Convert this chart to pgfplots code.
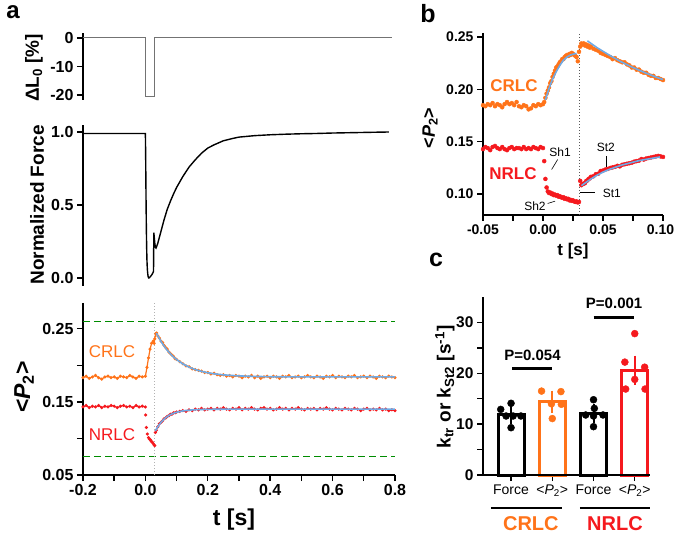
\documentclass[border=0pt]{standalone}
\usepackage{pgfplots}
\pgfplotsset{compat=1.18}
\usepackage{fontspec}
\setmainfont{Liberation Sans}
\definecolor{corange}{RGB}{255,115,25}
\definecolor{cred}{RGB}{245,25,30}
\definecolor{cblue}{RGB}{110,170,230}
\definecolor{cgreen}{RGB}{0,140,0}
\newcommand{\tb}[1]{\textbf{#1}}
\pgfplotsset{
  base/.style={scale only axis, clip=false, clip marker paths=true, anchor=south west,
    axis line style={draw=none}, xtick pos=left, ytick pos=left,
    tick align=outside, major tick length=6pt, minor tick length=6pt,
    tick style={black, line width=1.4pt},
    tick label style={font=\bfseries\fontsize{16}{18}\selectfont}},
}
\tikzset{axl/.style={line width=1.6pt, line join=miter}}
\begin{document}
\begin{tikzpicture}
\useasboundingbox (0,0) rectangle (675pt,-534pt);
% ---------- panel a top: length step
\begin{axis}[base, at={(83pt,-100pt)}, width=312pt, height=67pt,
  xmin=-0.2, xmax=0.8, ymin=-21.75, ymax=1.75, xtick=\empty,
  ytick={-20,-10,0}, yticklabels={\tb{-20},\tb{-10},\tb{0}}]
\draw[axl] (rel axis cs:0,0) -- (rel axis cs:0,1);
\addplot[black!55, line width=1pt] coordinates {(-0.2,0) (0.0,0) (0.0,-20.5) (0.028,-20.5) (0.028,0) (0.79,0)};
\end{axis}
% ---------- panel a middle: force
\begin{axis}[base, at={(83pt,-286pt)}, width=312pt, height=161pt,
  xmin=-0.2, xmax=0.8, ymin=-0.055, ymax=1.048, xtick=\empty,
  ytick={0,0.5,1}, yticklabels={\tb{0.0},\tb{0.5},\tb{1.0}}]
\draw[axl] (rel axis cs:0,0) -- (rel axis cs:0,1);
\addplot[black, line width=1.4pt] coordinates {
(-0.2,0.99) (-0.1,0.99) (0.0,0.99) (0.001,0.80) (0.002,0.55) (0.003,0.35) (0.004,0.21)
(0.005,0.12) (0.006,0.07) (0.007,0.04) (0.008,0.02) (0.009,0.008) (0.010,0.002) (0.011,0.0)
(0.013,0.002) (0.016,0.01) (0.020,0.02) (0.024,0.035) (0.026,0.045) (0.027,0.31) (0.028,0.29)
(0.030,0.24) (0.032,0.21) (0.034,0.205) (0.036,0.215) (0.04,0.24) (0.05,0.32) (0.06,0.40)
(0.07,0.47) (0.08,0.525) (0.09,0.575) (0.10,0.62) (0.12,0.695) (0.14,0.76) (0.16,0.81)
(0.18,0.855) (0.20,0.89) (0.22,0.912) (0.25,0.94) (0.28,0.956) (0.30,0.965) (0.35,0.975)
(0.40,0.981) (0.45,0.985) (0.50,0.988) (0.55,0.99) (0.60,0.993) (0.65,0.995) (0.70,0.997)
(0.75,0.999) (0.78,1.0)};
\end{axis}
% ---------- panel a bottom: <P2>
\begin{axis}[base, at={(83pt,-475pt)}, width=312pt, height=172pt,
  xmin=-0.2, xmax=0.8, ymin=0.05, ymax=0.285,
  xtick={-0.2,0,0.2,0.4,0.6,0.8}, xticklabels={\tb{-0.2},\tb{0.0},\tb{0.2},\tb{0.4},\tb{0.6},\tb{0.8}},
  minor xtick={-0.1,0.1,0.3,0.5,0.7},
  ytick={0.05,0.15,0.25}, yticklabels={\tb{0.05},\tb{0.15},\tb{0.25}}, minor ytick={0.1,0.2}]
\draw[axl] (rel axis cs:0,1) -- (rel axis cs:0,0) -- (rel axis cs:1,0);
\addplot[cgreen, line width=1.5pt, dash pattern=on 7pt off 4pt] coordinates {(-0.2,0.26) (0.8,0.26)};
\addplot[cgreen, line width=1.5pt, dash pattern=on 7pt off 4pt] coordinates {(-0.2,0.075) (0.8,0.075)};
\addplot[black!30, dotted, line width=1pt] coordinates {(0.03,0.05) (0.03,0.285)};
\addplot[corange, line width=1.2pt, mark=*, mark size=0.9pt] coordinates {
(-0.20,0.183) (-0.19,0.185) (-0.18,0.182) (-0.17,0.184) (-0.16,0.186) (-0.15,0.183) (-0.14,0.181)
(-0.13,0.184) (-0.12,0.185) (-0.11,0.183) (-0.10,0.184) (-0.09,0.182) (-0.08,0.185) (-0.07,0.184)
(-0.06,0.183) (-0.05,0.186) (-0.04,0.184) (-0.03,0.182) (-0.02,0.185) (-0.01,0.184) (0.000,0.185)
(0.005,0.197) (0.010,0.210) (0.015,0.222) (0.020,0.230) (0.025,0.233) (0.028,0.230) (0.030,0.236)
(0.033,0.243) (0.036,0.244) (0.040,0.240) (0.045,0.237) (0.050,0.233) (0.055,0.231) (0.060,0.227)
(0.065,0.224) (0.070,0.222) (0.075,0.218) (0.080,0.216) (0.085,0.214) (0.090,0.212) (0.095,0.209)
(0.100,0.208) (0.110,0.205) (0.120,0.202) (0.130,0.199) (0.140,0.198) (0.150,0.195) (0.160,0.194)
(0.170,0.193) (0.180,0.192) (0.190,0.190) (0.200,0.190) (0.210,0.188) (0.220,0.189) (0.230,0.187)
(0.240,0.186) (0.250,0.187) (0.26,0.185) (0.27,0.186) (0.28,0.184) (0.29,0.186) (0.30,0.185)
(0.31,0.183) (0.32,0.185) (0.33,0.184) (0.34,0.186) (0.35,0.183) (0.36,0.185) (0.37,0.182)
(0.38,0.184) (0.39,0.185) (0.40,0.183) (0.41,0.185) (0.42,0.184) (0.43,0.182) (0.44,0.185)
(0.45,0.184) (0.46,0.186) (0.47,0.183) (0.48,0.184) (0.49,0.185) (0.50,0.183) (0.51,0.184)
(0.52,0.186) (0.53,0.184) (0.54,0.183) (0.55,0.185) (0.56,0.184) (0.57,0.182) (0.58,0.185)
(0.59,0.184) (0.60,0.186) (0.61,0.183) (0.62,0.185) (0.63,0.184) (0.64,0.183) (0.65,0.185)
(0.66,0.184) (0.67,0.186) (0.68,0.183) (0.69,0.184) (0.70,0.185) (0.71,0.183) (0.72,0.185)
(0.73,0.184) (0.74,0.182) (0.75,0.185) (0.76,0.184) (0.77,0.183) (0.78,0.185) (0.79,0.184) (0.80,0.183)};
\addplot[cred, line width=1.2pt, mark=*, mark size=0.9pt, unbounded coords=jump] coordinates {
(-0.20,0.143) (-0.19,0.145) (-0.18,0.142) (-0.17,0.144) (-0.16,0.143) (-0.15,0.145) (-0.14,0.142)
(-0.13,0.144) (-0.12,0.143) (-0.11,0.145) (-0.10,0.144) (-0.09,0.142) (-0.08,0.144) (-0.07,0.145)
(-0.06,0.143) (-0.05,0.144) (-0.04,0.142) (-0.03,0.145) (-0.02,0.143) (-0.01,0.144) (0.000,0.143)
(0.0005,nan) (0.001,0.132) (0.002,nan) (0.003,0.115) (0.004,nan) (0.006,0.106) (0.008,nan)
(0.010,0.101) (0.013,0.099) (0.016,0.098) (0.019,0.096) (0.022,0.095) (0.025,0.093) (0.028,0.091)
(0.030,0.090) (0.031,nan) (0.032,0.108) (0.035,0.111) (0.040,0.116) (0.045,0.120) (0.050,0.122)
(0.055,0.124) (0.060,0.127) (0.065,0.128) (0.070,0.130) (0.075,0.131) (0.080,0.133) (0.085,0.133)
(0.090,0.135) (0.095,0.135) (0.100,0.136) (0.11,0.137) (0.12,0.138) (0.13,0.137) (0.14,0.139)
(0.15,0.138) (0.16,0.140) (0.17,0.139) (0.18,0.141) (0.19,0.139) (0.20,0.140) (0.21,0.141)
(0.22,0.139) (0.23,0.141) (0.24,0.140) (0.25,0.142) (0.26,0.140) (0.27,0.139) (0.28,0.141)
(0.29,0.140) (0.30,0.142) (0.31,0.139) (0.32,0.141) (0.33,0.140) (0.34,0.142) (0.35,0.140)
(0.36,0.139) (0.37,0.141) (0.38,0.142) (0.39,0.140) (0.40,0.141) (0.41,0.139) (0.42,0.140)
(0.43,0.142) (0.44,0.140) (0.45,0.141) (0.46,0.139) (0.47,0.141) (0.48,0.140) (0.49,0.142)
(0.50,0.140) (0.51,0.139) (0.52,0.141) (0.53,0.140) (0.54,0.141) (0.55,0.139) (0.56,0.141)
(0.57,0.140) (0.58,0.142) (0.59,0.140) (0.60,0.139) (0.61,0.141) (0.62,0.140) (0.63,0.139)
(0.64,0.141) (0.65,0.140) (0.66,0.139) (0.67,0.141) (0.68,0.140) (0.69,0.138) (0.70,0.140)
(0.71,0.141) (0.72,0.139) (0.73,0.140) (0.74,0.139) (0.75,0.141) (0.76,0.139) (0.77,0.140)
(0.78,0.138) (0.79,0.139) (0.80,0.138)};
\addplot[cblue, line width=1.6pt] coordinates {
(0.035,0.244) (0.04,0.240) (0.05,0.2325) (0.06,0.226) (0.07,0.2204) (0.08,0.2156) (0.09,0.2113)
(0.10,0.2077) (0.12,0.2018) (0.14,0.1974) (0.16,0.194) (0.18,0.1916) (0.20,0.1897) (0.22,0.1883)
(0.25,0.1868) (0.30,0.1854) (0.35,0.1847) (0.40,0.1843) (0.50,0.184) (0.80,0.184)};
\addplot[cblue, line width=1.6pt] coordinates {
(0.032,0.110) (0.035,0.1125) (0.04,0.1161) (0.05,0.1221) (0.06,0.1265) (0.07,0.1299) (0.08,0.1324)
(0.09,0.1343) (0.10,0.1357) (0.12,0.1376) (0.14,0.1386) (0.16,0.1392) (0.20,0.1397) (0.25,0.1399)
(0.30,0.140) (0.80,0.140)};
\node[corange, font=\fontsize{17}{19}\selectfont] at (axis cs:-0.107,0.2187) {CRLC};
\node[cred, font=\fontsize{17}{19}\selectfont] at (axis cs:-0.107,0.1058) {NRLC};
\end{axis}
% ---------- panel b
\begin{axis}[base, at={(483pt,-215pt)}, width=180pt, height=182pt,
  xmin=-0.05, xmax=0.10, ymin=0.08, ymax=0.254,
  tick label style={font=\bfseries\fontsize{14}{16}\selectfont},
  xtick={-0.05,0,0.05,0.1}, xticklabels={\tb{-0.05},\tb{0.00},\tb{0.05},\tb{0.10}\hspace*{5pt}},
  minor xtick={-0.025,0.025,0.075},
  ytick={0.10,0.15,0.20,0.25}, yticklabels={\tb{0.10},\tb{0.15},\tb{0.20},\tb{0.25}}]
\draw[axl] (rel axis cs:0,1) -- (rel axis cs:0,0) -- (rel axis cs:1,0);
\addplot[black!65, dotted, line width=1pt] coordinates {(0.03,0.08) (0.03,0.254)};
\addplot[corange, only marks, mark=*, mark size=2pt] coordinates {
(-0.050,0.185) (-0.048,0.184) (-0.046,0.186) (-0.044,0.185) (-0.042,0.187) (-0.040,0.184)
(-0.038,0.186) (-0.036,0.185) (-0.034,0.183) (-0.032,0.186) (-0.030,0.188) (-0.028,0.186)
(-0.026,0.187) (-0.024,0.185) (-0.022,0.188) (-0.020,0.184) (-0.018,0.183) (-0.016,0.185)
(-0.014,0.184) (-0.012,0.181) (-0.010,0.182) (-0.008,0.185) (-0.006,0.184) (-0.004,0.186)
(-0.002,0.185) (0.000,0.186) (0.001,0.188) (0.002,0.192) (0.003,0.196) (0.004,0.199) (0.005,0.202)
(0.006,0.206) (0.007,0.208) (0.008,0.212) (0.009,0.215) (0.010,0.218) (0.011,0.221) (0.012,0.222)
(0.013,0.224) (0.014,0.226) (0.015,0.227) (0.016,0.229) (0.017,0.229) (0.018,0.231) (0.019,0.232)
(0.020,0.233) (0.021,0.232) (0.022,0.234) (0.023,0.233) (0.024,0.235) (0.025,0.234) (0.026,0.233)
(0.027,0.232) (0.028,0.231) (0.029,0.227) (0.030,0.236) (0.031,0.241) (0.032,0.244) (0.033,0.243)
(0.034,0.244) (0.035,0.242) (0.036,0.243) (0.037,0.241) (0.038,0.242) (0.039,0.240) (0.040,0.241)
(0.042,0.239) (0.044,0.238) (0.046,0.237) (0.048,0.235) (0.050,0.234) (0.052,0.233) (0.054,0.232)
(0.056,0.231) (0.058,0.229) (0.060,0.230) (0.062,0.228) (0.064,0.227) (0.066,0.226) (0.068,0.226)
(0.070,0.224) (0.072,0.223) (0.074,0.221) (0.076,0.221) (0.078,0.219) (0.080,0.219) (0.082,0.217)
(0.084,0.216) (0.086,0.216) (0.088,0.214) (0.090,0.213) (0.092,0.213) (0.094,0.211) (0.096,0.211)
(0.098,0.210) (0.100,0.209)};
\addplot[cred, only marks, mark=*, mark size=2pt] coordinates {
(-0.050,0.143) (-0.048,0.145) (-0.046,0.144) (-0.044,0.142) (-0.042,0.145) (-0.040,0.146)
(-0.038,0.144) (-0.036,0.143) (-0.034,0.145) (-0.032,0.143) (-0.030,0.142) (-0.028,0.144)
(-0.026,0.145) (-0.024,0.143) (-0.022,0.144) (-0.020,0.144) (-0.018,0.143) (-0.016,0.145)
(-0.014,0.143) (-0.012,0.144) (-0.010,0.143) (-0.008,0.145) (-0.006,0.144) (-0.004,0.143)
(-0.002,0.145) (0.000,0.144) (0.001,0.1315) (0.002,0.1145) (0.003,0.1063) (0.004,0.1025)
(0.005,0.101) (0.006,0.1015) (0.007,0.100) (0.008,0.1005) (0.009,0.099) (0.010,0.0995)
(0.011,0.0985) (0.012,0.099) (0.013,0.0975) (0.014,0.098) (0.015,0.097) (0.016,0.0965)
(0.017,0.097) (0.018,0.0955) (0.019,0.096) (0.020,0.095) (0.021,0.0955) (0.022,0.094)
(0.023,0.0945) (0.024,0.0935) (0.025,0.094) (0.026,0.093) (0.027,0.0925) (0.028,0.093)
(0.029,0.092) (0.030,0.0925) (0.031,0.1126) (0.032,0.1085) (0.033,0.1095) (0.034,0.110)
(0.035,0.1105) (0.036,0.1125) (0.037,0.113) (0.038,0.1145) (0.039,0.115) (0.040,0.1165)
(0.042,0.117) (0.044,0.119) (0.046,0.1195) (0.048,0.122) (0.050,0.1225) (0.052,0.1235)
(0.054,0.124) (0.056,0.125) (0.058,0.1255) (0.060,0.126) (0.062,0.127) (0.064,0.1265)
(0.066,0.128) (0.068,0.1285) (0.070,0.129) (0.072,0.1295) (0.074,0.130) (0.076,0.131)
(0.078,0.1315) (0.080,0.132) (0.082,0.1335) (0.084,0.133) (0.086,0.134) (0.088,0.1345)
(0.090,0.135) (0.092,0.1355) (0.094,0.136) (0.096,0.1365) (0.098,0.136) (0.100,0.1355)};
\addplot[cblue, line width=1.6pt] coordinates {
(0.002,0.190) (0.005,0.201) (0.008,0.210) (0.011,0.217) (0.014,0.223) (0.017,0.228) (0.020,0.231)
(0.023,0.233) (0.026,0.234) (0.028,0.2345)};
\addplot[cblue, line width=1.6pt] coordinates {
(0.037,0.2465) (0.045,0.240) (0.055,0.233) (0.065,0.2265) (0.075,0.221) (0.085,0.216) (0.095,0.2115) (0.100,0.2095)};
\addplot[cblue, line width=1.6pt] coordinates {
(0.032,0.108) (0.035,0.1105) (0.040,0.1145) (0.045,0.1180) (0.050,0.121) (0.055,0.1235) (0.060,0.1255)
(0.065,0.1275) (0.070,0.129) (0.075,0.1305) (0.080,0.132) (0.085,0.133) (0.090,0.134) (0.095,0.135) (0.0975,0.1355)};
\node[corange, font=\bfseries\fontsize{17}{19}\selectfont] at (axis cs:-0.0242,0.2032) {CRLC};
\node[cred, font=\bfseries\fontsize{17}{19}\selectfont] at (axis cs:-0.025,0.120) {NRLC};
\node[font=\fontsize{12}{14}\selectfont] at (axis cs:0.0142,0.1398) {Sh1};
\draw[line width=0.6pt] (axis cs:0.0072,0.1235) -- (axis cs:0.0122,0.133);
\node[font=\fontsize{12}{14}\selectfont] at (axis cs:-0.0067,0.0884) {Sh2};
\draw[line width=0.6pt] (axis cs:0.0039,0.091) -- (axis cs:0.010,0.0932);
\node[font=\fontsize{12}{14}\selectfont] at (axis cs:0.0573,0.1006) {St1};
\draw[line width=0.6pt] (axis cs:0.0308,0.1021) -- (axis cs:0.0433,0.1021);
\node[font=\fontsize{12}{14}\selectfont] at (axis cs:0.0523,0.1451) {St2};
\draw[line width=0.6pt] (axis cs:0.0531,0.126) -- (axis cs:0.0531,0.1365);
\end{axis}
% ---------- panel c
\begin{axis}[base, at={(483pt,-475pt)}, width=167pt, height=178pt,
  xmin=0.32, xmax=4.37, ymin=0, ymax=35,
  tick label style={font=\bfseries\fontsize{15.5}{17}\selectfont},
  xtick={1,2,3,4},
  xticklabels={\mbox{Force},\mbox{<\textit{P}\textsubscript{2}>},\mbox{Force},\mbox{<\textit{P}\textsubscript{2}>}},
  x tick label style={font=\fontsize{14}{16}\selectfont},
  ytick={0,10,20,30}, yticklabels={\tb{0},\tb{10},\tb{20},\tb{30}}, minor ytick={5,15,25}]
\addplot[ybar, bar width=26pt, bar shift=0pt, fill=white, draw=black, line width=3pt] coordinates {(1,11.9)};
\addplot[ybar, bar width=26pt, bar shift=0pt, fill=white, draw=corange, line width=3pt] coordinates {(2,14.4)};
\addplot[ybar, bar width=26pt, bar shift=0pt, fill=white, draw=black, line width=3pt] coordinates {(3,12.1)};
\addplot[ybar, bar width=26pt, bar shift=0pt, fill=white, draw=cred, line width=3pt] coordinates {(4,20.6)};
\draw[axl] (rel axis cs:0,1) -- (rel axis cs:0,0) -- (rel axis cs:1,0);
\addplot[only marks, mark=*, mark size=3.5pt, black] coordinates {
(1.0,14.1) (0.75,12.9) (0.88,11.6) (1.05,11.6) (1.24,11.6) (1.0,9.3)};
\addplot[only marks, mark=*, mark size=3.5pt, corange] coordinates {
(1.74,16.5) (2.21,16.4) (1.98,14.0) (2.22,13.9) (2.0,11.1)};
\addplot[only marks, mark=*, mark size=3.5pt, black] coordinates {
(3.0,14.8) (3.02,13.1) (2.81,11.8) (3.0,11.6) (3.23,11.8) (3.0,9.5)};
\addplot[only marks, mark=*, mark size=3.5pt, cred] coordinates {
(4.0,27.8) (3.76,22.2) (4.24,21.2) (4.0,18.8) (3.78,16.9) (4.25,16.9)};
\addplot[black, only marks, mark=-, mark size=6pt, mark options={line width=2pt},
  error bars/.cd, y dir=both, y explicit, error mark=-,
  error bar style={line width=2pt}, error mark options={line width=2pt, mark size=6pt}]
  coordinates {(1,11.9) +- (0,0.7) (3,12.1) +- (0,0.7)};
\addplot[corange, only marks, mark=-, mark size=6pt, mark options={line width=2pt},
  error bars/.cd, y dir=both, y explicit, error mark=-,
  error bar style={line width=2pt}, error mark options={line width=2pt, mark size=6pt}]
  coordinates {(2,14.4) +- (0,1.0)};
\addplot[cred, only marks, mark=-, mark size=6pt, mark options={line width=2pt},
  error bars/.cd, y dir=both, y explicit, error mark=-,
  error bar style={line width=2pt}, error mark options={line width=2pt, mark size=6pt}]
  coordinates {(4,20.6) +- (0,1.7)};
\draw[line width=2.5pt] (axis cs:1.03,20.9) -- (axis cs:2.0,20.9);
\node[font=\bfseries\fontsize{15}{17}\selectfont] at (axis cs:1.52,23.6) {P=0.054};
\draw[line width=2.5pt] (axis cs:3.0,31.0) -- (axis cs:3.97,31.0);
\node[font=\bfseries\fontsize{15}{17}\selectfont] at (axis cs:3.5,33.7) {P=0.001};
\draw[line width=2pt] (axis cs:0.51,-6.5) -- (axis cs:2.24,-6.5);
\draw[line width=2pt] (axis cs:2.67,-6.5) -- (axis cs:4.37,-6.5);
\node[corange, font=\bfseries\fontsize{20}{22}\selectfont] at (axis cs:1.48,-9.5) {CRLC};
\node[cred, font=\bfseries\fontsize{20}{22}\selectfont] at (axis cs:3.52,-9.5) {NRLC};
\end{axis}
% ---------- labels
\node[font=\bfseries\fontsize{24}{26}\selectfont] at (13pt,-12pt) {a};
\node[font=\bfseries\fontsize{25}{27}\selectfont] at (428pt,-14pt) {b};
\node[font=\bfseries\fontsize{25}{27}\selectfont] at (436pt,-260pt) {c};
\node[rotate=90, font=\bfseries\fontsize{19}{21}\selectfont] at (34pt,-68pt) {ΔL\textsubscript{0} [\%]};
\node[rotate=90, font=\bfseries\fontsize{19}{21}\selectfont] at (37pt,-205pt) {Normalized Force};
\node[rotate=90, font=\bfseries\fontsize{23}{25}\selectfont] at (24pt,-387pt) {<\textit{P}\textsubscript{2}>};
\node[font=\bfseries\fontsize{23}{25}\selectfont] at (234pt,-520pt) {t [s]};
\node[rotate=90, font=\bfseries\fontsize{18}{20}\selectfont] at (430pt,-128pt) {<\textit{P}\textsubscript{2}>};
\node[font=\bfseries\fontsize{17}{19}\selectfont] at (573pt,-251pt) {t [s]};
\node[rotate=90, font=\bfseries\fontsize{19}{21}\selectfont] at (445pt,-387pt) {k\textsubscript{tr} or k\textsubscript{St2} [s\textsuperscript{-1}]};
\end{tikzpicture}
\end{document}
